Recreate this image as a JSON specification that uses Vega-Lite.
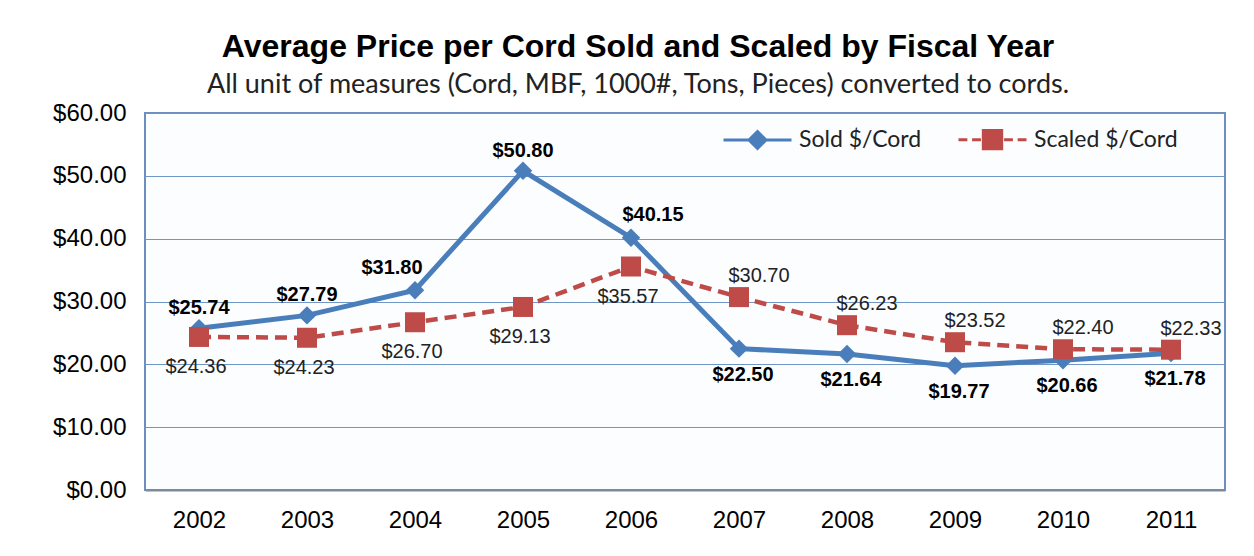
{
  "$schema": "https://vega.github.io/schema/vega-lite/v6.json",
  "autosize": "none",
  "width": 1080,
  "height": 377,
  "padding": {"left": 145, "top": 113, "right": 29, "bottom": 66},
  "background": "white",
  "title": {
    "text": "Average Price per Cord Sold and Scaled by Fiscal Year",
    "subtitle": "All unit of measures (Cord, MBF, 1000#, Tons, Pieces) converted to cords.",
    "anchor": "middle",
    "dx": -47,
    "font": "Liberation Sans",
    "fontSize": 32,
    "fontWeight": "bold",
    "color": "black",
    "subtitleFont": "Lato",
    "subtitleFontSize": 27,
    "subtitleColor": "#222222",
    "subtitlePadding": 8,
    "offset": 2
  },
  "config": {
    "view": {"stroke": "#6d8fbf", "strokeWidth": 2, "fill": "#fbfdff"},
    "axis": {
      "labelFont": "Liberation Sans",
      "labelFontSize": 24,
      "labelColor": "black",
      "ticks": false,
      "title": null,
      "gridColor": "#7096c6",
      "gridWidth": 1,
      "gridOpacity": 1
    }
  },
  "data": {
    "values": [
      {"year": "2002", "series": "Sold $/Cord", "value": 25.74},
      {"year": "2003", "series": "Sold $/Cord", "value": 27.79},
      {"year": "2004", "series": "Sold $/Cord", "value": 31.80},
      {"year": "2005", "series": "Sold $/Cord", "value": 50.80},
      {"year": "2006", "series": "Sold $/Cord", "value": 40.15},
      {"year": "2007", "series": "Sold $/Cord", "value": 22.50},
      {"year": "2008", "series": "Sold $/Cord", "value": 21.64},
      {"year": "2009", "series": "Sold $/Cord", "value": 19.77},
      {"year": "2010", "series": "Sold $/Cord", "value": 20.66},
      {"year": "2011", "series": "Sold $/Cord", "value": 21.78},
      {"year": "2002", "series": "Scaled $/Cord", "value": 24.36},
      {"year": "2003", "series": "Scaled $/Cord", "value": 24.23},
      {"year": "2004", "series": "Scaled $/Cord", "value": 26.70},
      {"year": "2005", "series": "Scaled $/Cord", "value": 29.13},
      {"year": "2006", "series": "Scaled $/Cord", "value": 35.57},
      {"year": "2007", "series": "Scaled $/Cord", "value": 30.70},
      {"year": "2008", "series": "Scaled $/Cord", "value": 26.23},
      {"year": "2009", "series": "Scaled $/Cord", "value": 23.52},
      {"year": "2010", "series": "Scaled $/Cord", "value": 22.40},
      {"year": "2011", "series": "Scaled $/Cord", "value": 22.33}
    ]
  },
  "encoding": {
    "x": {
      "field": "year",
      "type": "ordinal",
      "scale": {"padding": 0.5},
      "axis": {"labelAngle": 0, "labelPadding": 18, "grid": false, "domainColor": "#7a8a9c", "domainWidth": 2}
    },
    "y": {
      "field": "value",
      "type": "quantitative",
      "scale": {"domain": [0, 60], "nice": false},
      "axis": {"values": [0, 10, 20, 30, 40, 50, 60], "format": "$.2f", "labelPadding": 19, "domain": false, "grid": true}
    }
  },
  "layer": [
    {
      "transform": [{"filter": {"field": "series", "equal": "Sold $/Cord"}}],
      "mark": {"type": "line", "color": "#4a7ebb", "strokeWidth": 5}
    },
    {
      "transform": [{"filter": {"field": "series", "equal": "Sold $/Cord"}}],
      "mark": {"type": "point", "shape": "diamond", "filled": true, "size": 340, "color": "#4a7ebb", "opacity": 1}
    },
    {
      "transform": [{"filter": {"field": "series", "equal": "Scaled $/Cord"}}],
      "mark": {"type": "line", "color": "#be4b48", "strokeWidth": 4.5, "strokeDash": [12, 7]}
    },
    {
      "transform": [{"filter": {"field": "series", "equal": "Scaled $/Cord"}}],
      "mark": {"type": "point", "shape": "square", "filled": true, "size": 400, "color": "#be4b48", "opacity": 1}
    },
    {
      "mark": {"type": "point", "opacity": 0, "filled": true},
      "encoding": {
        "fill": {
          "field": "series", "type": "nominal",
          "scale": {"domain": ["Sold $/Cord", "Scaled $/Cord"], "range": ["#4a7ebb", "#be4b48"]},
          "legend": {"orient": "none", "legendX": 577, "legendY": -9, "direction": "horizontal", "title": null, "symbolSize": 4624, "symbolStrokeWidth": 3, "symbolOpacity": 1, "labelFont": "Lato", "labelFontSize": 23, "labelColor": "#222222", "labelOffset": 6, "columnPadding": 30, "padding": 0}
        },
        "stroke": {
          "field": "series", "type": "nominal",
          "scale": {"domain": ["Sold $/Cord", "Scaled $/Cord"], "range": ["#4a7ebb", "#be4b48"]},
          "legend": {"orient": "none", "legendX": 577, "legendY": -9, "direction": "horizontal", "title": null, "symbolSize": 4624, "symbolStrokeWidth": 3, "symbolOpacity": 1, "labelFont": "Lato", "labelFontSize": 23, "labelColor": "#222222", "labelOffset": 6, "columnPadding": 30, "padding": 0}
        },
        "shape": {
          "field": "series", "type": "nominal",
          "scale": {"domain": ["Sold $/Cord", "Scaled $/Cord"], "range": ["M-1,0L1,0M0,-0.25L0.25,0L0,0.25L-0.25,0Z", "M-1,0L-0.74,0M-0.6,0L-0.34,0M0.34,0L0.6,0M0.74,0L1,0M-0.27,-0.27L0.27,-0.27L0.27,0.27L-0.27,0.27Z"]},
          "legend": {"orient": "none", "legendX": 577, "legendY": -9, "direction": "horizontal", "title": null, "symbolSize": 4624, "symbolStrokeWidth": 3, "symbolOpacity": 1, "labelFont": "Lato", "labelFontSize": 23, "labelColor": "#222222", "labelOffset": 6, "columnPadding": 30, "padding": 0}
        }
      }
    },
    {
      "transform": [{"filter": {"and": [{"field": "series", "equal": "Sold $/Cord"}, {"field": "year", "oneOf": ["2002", "2003", "2005"]}]}}],
      "mark": {"type": "text", "font": "Liberation Sans", "fontSize": 20, "fontWeight": "bold", "color": "black", "baseline": "middle", "dy": -20},
      "encoding": {"text": {"field": "value", "type": "quantitative", "format": "$.2f"}}
    },
    {
      "transform": [{"filter": {"and": [{"field": "series", "equal": "Sold $/Cord"}, {"field": "year", "equal": "2004"}]}}],
      "mark": {"type": "text", "font": "Liberation Sans", "fontSize": 20, "fontWeight": "bold", "color": "black", "baseline": "middle", "dx": -23, "dy": -22},
      "encoding": {"text": {"field": "value", "type": "quantitative", "format": "$.2f"}}
    },
    {
      "transform": [{"filter": {"and": [{"field": "series", "equal": "Sold $/Cord"}, {"field": "year", "equal": "2006"}]}}],
      "mark": {"type": "text", "font": "Liberation Sans", "fontSize": 20, "fontWeight": "bold", "color": "black", "baseline": "middle", "dx": 22, "dy": -23},
      "encoding": {"text": {"field": "value", "type": "quantitative", "format": "$.2f"}}
    },
    {
      "transform": [{"filter": {"and": [{"field": "series", "equal": "Sold $/Cord"}, {"field": "year", "oneOf": ["2007", "2008", "2009", "2010", "2011"]}]}}],
      "mark": {"type": "text", "font": "Liberation Sans", "fontSize": 20, "fontWeight": "bold", "color": "black", "baseline": "middle", "dx": 4, "dy": 26},
      "encoding": {"text": {"field": "value", "type": "quantitative", "format": "$.2f"}}
    },
    {
      "transform": [{"filter": {"and": [{"field": "series", "equal": "Scaled $/Cord"}, {"field": "year", "oneOf": ["2002", "2003", "2004", "2005", "2006"]}]}}],
      "mark": {"type": "text", "font": "Liberation Sans", "fontSize": 20, "color": "#222222", "baseline": "middle", "dx": -3, "dy": 30},
      "encoding": {"text": {"field": "value", "type": "quantitative", "format": "$.2f"}}
    },
    {
      "transform": [{"filter": {"and": [{"field": "series", "equal": "Scaled $/Cord"}, {"field": "year", "oneOf": ["2007", "2008", "2009", "2010", "2011"]}]}}],
      "mark": {"type": "text", "font": "Liberation Sans", "fontSize": 20, "color": "#222222", "baseline": "middle", "dx": 20, "dy": -21},
      "encoding": {"text": {"field": "value", "type": "quantitative", "format": "$.2f"}}
    }
  ]
}
